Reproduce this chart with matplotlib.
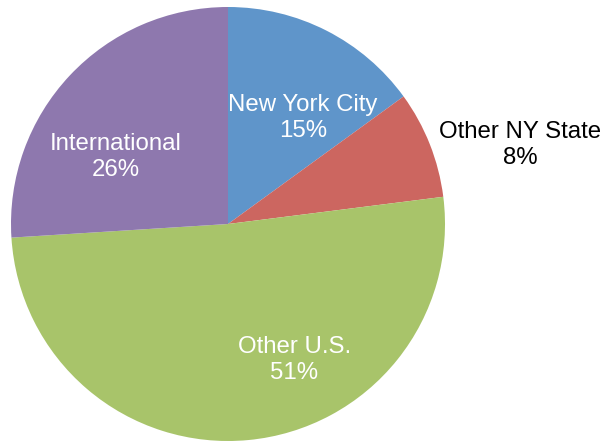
import matplotlib.pyplot as plt
import numpy as np

plt.rcParams['font.family'] = ['Liberation Sans', 'DejaVu Sans']

categories = ['New York City', 'Other NY State', 'Other U.S.', 'International']
shares = [15, 8, 51, 26]
colors = ['#5F95CA', '#CC6660', '#A8C46A', '#8E78AE']
label_colors = ['white', 'black', 'white', 'white']
# where each label sits (angle in degrees, distance as fraction of radius)
label_angle = [54.7, 15.1, -64.1, 149.1]
label_dist = [0.598, 1.394, 0.697, 0.601]

fig = plt.figure(figsize=(6.04, 4.43), dpi=100)
ax = fig.add_axes([11 / 604, 2 / 443, 434 / 604, 434 / 443])
ax.pie(shares, colors=colors, startangle=90, counterclock=False,
       wedgeprops=dict(linewidth=0))
ax.set_xlim(-1, 1)
ax.set_ylim(-1, 1)
ax.set_aspect('equal')

for name, val, c, a, d in zip(categories, shares, label_colors, label_angle, label_dist):
    t = np.deg2rad(a)
    ax.text(d * np.cos(t), d * np.sin(t), f'{name}\n{val}%', color=c,
            ha='center', va='center', fontsize=17.3, linespacing=1.2,
            clip_on=False)

fig.savefig('out.png', dpi=100)
